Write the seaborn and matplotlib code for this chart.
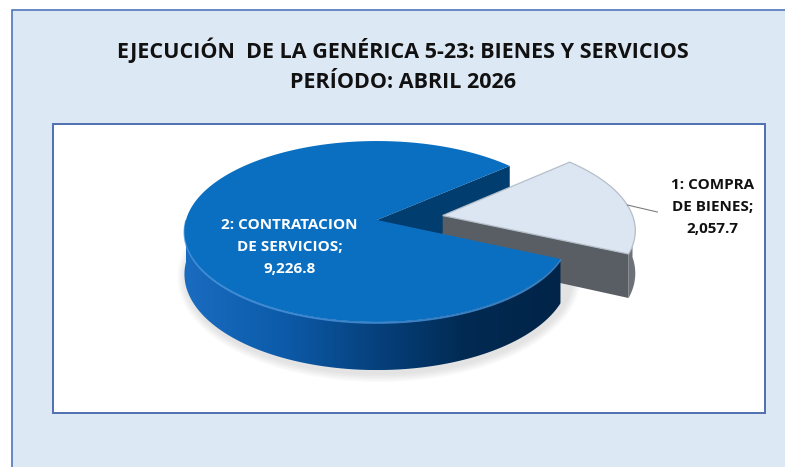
import numpy as np
import matplotlib
matplotlib.use("Agg")
import matplotlib.pyplot as plt
import seaborn as sns
from matplotlib import transforms as mtrans
from matplotlib import font_manager
from matplotlib.path import Path
from matplotlib.patches import Rectangle, Polygon, Ellipse
from matplotlib.colors import LinearSegmentedColormap

# ------------------------------
# Data
# ------------------------------
categorias = ["1: COMPRA\nDE BIENES", "2: CONTRATACION\nDE SERVICIOS"]
valores = [2057.7, 9226.8]
titulo = ["EJECUCIÓN  DE LA GENÉRICA 5-23: BIENES Y SERVICIOS",
          "PERÍODO: ABRIL 2026"]

sns.set_theme(style="white")

# pick a font close to Calibri
fam = "DejaVu Sans"
for f in ["Liberation Sans Narrow", "Open Sans", "Lato"]:
    try:
        font_manager.findfont(f, fallback_to_default=False)
        fam = f
        break
    except Exception:
        pass
plt.rcParams["font.family"] = [fam, "DejaVu Sans"]

# ------------------------------
# Canvas (pixel-like coordinates)
# ------------------------------
W, H = 785, 467
fig = plt.figure(figsize=(W / 100, H / 100), dpi=100)
fig.patch.set_facecolor("white")
ax = fig.add_axes([0, 0, 1, 1])

ax.add_patch(Rectangle((12, 10), 800, 480, facecolor="#dde8f5",
                       edgecolor="#4f76b9", lw=1.2, zorder=0))
ax.add_patch(Rectangle((53, 124), 712, 289, facecolor="white",
                       edgecolor="#4f6fb0", lw=1.4, zorder=0.5))

ax.text(403, 50, titulo[0], ha="center", va="center", fontsize=15.5,
        fontweight="bold", color="#111111")
ax.text(403, 83, titulo[1], ha="center", va="center", fontsize=15.5,
        fontweight="bold", color="#111111")

# ------------------------------
# 3D pie: flat pie seen in perspective + extruded walls
# ------------------------------
CX, CY, RX, RY, K, D = 377, 220, 191, 89, 0.127, 42


def proj(u, v, drop=0.0):
    s = 1.0 / (1.0 + K * np.asarray(v))
    return CX + RX * np.asarray(u) * s, CY - RY * np.asarray(v) * s + drop * s


class Persp(mtrans.Transform):
    input_dims = output_dims = 2
    is_separable = False
    has_inverse = False

    def transform_non_affine(self, xy):
        xy = np.asarray(xy, dtype=float)
        x, y = proj(xy[:, 0], xy[:, 1])
        return np.column_stack([x, y])

    def transform_path_non_affine(self, path):
        # flatten the bezier arcs before the projective mapping
        pts = []
        for seg, code in path.iter_bezier():
            if seg.degree == 0:
                pts.append(seg.control_points)
            else:
                pts.append(seg(np.linspace(0, 1, 24)[1:]))
        v = np.vstack(pts)
        return Path(self.transform_non_affine(v), closed=True)


wedges, _ = ax.pie(valores, startangle=-24.5, counterclock=True,
                   explode=[0.35, 0], colors=["#dce6f2", "#0b6fc1"],
                   wedgeprops=dict(linewidth=0))
ax.set_aspect("auto")
ax.axis("off")
top_tr = Persp() + ax.transData


def rim(w, ang, r=None, drop=0.0):
    cx, cy = w.center
    r = w.r if r is None else r
    a = np.radians(ang)
    return proj(cx + r * np.cos(a), cy + r * np.sin(a), drop)


def wall_poly(w, a0, a1):
    ang = np.linspace(a0, a1, 160)
    top = np.column_stack(rim(w, ang))
    bot = np.column_stack(rim(w, ang, drop=D))[::-1]
    return np.vstack([top, bot]), top


def radial_poly(w, ang):
    c0 = rim(w, ang, r=0)
    c1 = rim(w, ang, r=0, drop=D)
    r0 = rim(w, ang)
    r1 = rim(w, ang, drop=D)
    return np.array([c0, r0, r1, c1])


w_bien, w_serv = wedges

# soft shadow hugging the base of the pie
bx, by = rim(w_serv, np.linspace(0, 360, 200), drop=D)
bcx, bcy = (bx.max() + bx.min()) / 2, (by.max() + by.min()) / 2
for k in range(1, 7):
    ax.add_patch(Ellipse((bcx + 2, bcy + 3), np.ptp(bx) + 3 * k,
                         np.ptp(by) + 3 * k, facecolor="#7a7a7a",
                         alpha=0.035, lw=0, zorder=1))

# blue radial wall seen through the gap
ax.add_patch(Polygon(radial_poly(w_serv, w_serv.theta1), closed=True,
                     facecolor="#023d70", lw=0, zorder=2))

# light slice: radial wall, outer wall, top
ax.add_patch(Polygon(radial_poly(w_bien, w_bien.theta1), closed=True,
                     facecolor="#595e65", lw=0, zorder=3))
poly, _ = wall_poly(w_bien, w_bien.theta1, 0)
ax.add_patch(Polygon(poly, closed=True, facecolor="#6d727a", lw=0, zorder=3))
w_bien.set_transform(top_tr)
w_bien.set_zorder(4)
w_bien.set_edgecolor("#b5bfca")
w_bien.set_linewidth(0.9)

# blue outer wall with horizontal gradient
poly, top_arc = wall_poly(w_serv, 180, w_serv.theta2)
wall = Polygon(poly, closed=True, facecolor="none", lw=0, zorder=5)
ax.add_patch(wall)
grad_cmap = LinearSegmentedColormap.from_list(
    "wall", ["#1a6cc0", "#0d5cab", "#06427f", "#012a52", "#012448"])
x0, x1 = poly[:, 0].min(), poly[:, 0].max()
y0, y1 = poly[:, 1].min(), poly[:, 1].max()
img = ax.imshow(np.linspace(0, 1, 256)[None, :], cmap=grad_cmap,
                extent=[x0, x1, y1, y0], aspect="auto", zorder=5)
img.set_clip_path(wall)
ax.plot(top_arc[:, 0], top_arc[:, 1] + 1, color="#4a96e0", lw=1.3,
        alpha=0.8, zorder=6)

w_serv.set_transform(top_tr)
w_serv.set_zorder(7)

ax.set_xlim(0, W)
ax.set_ylim(H, 0)

# ------------------------------
# Data labels (anchor given in pie coordinates)
# ------------------------------
etiquetas = [(categorias[1], valores[1], (-0.44, -0.29), "white"),
             (categorias[0], valores[0], (1.79, 0.15), "#111111")]
for cat, val, (u, v), col in etiquetas:
    x, y = proj(u, v)
    ax.text(x, y, f"{cat};\n{val:,.1f}", ha="center", va="center",
            fontsize=11, fontweight="bold", color=col, linespacing=1.72,
            zorder=9)

# leader line for the outside label
lx, ly = zip(rim(w_bien, 7), rim(w_bien, 2, r=1.14))
ax.plot(lx, ly, color="#7f7f7f", lw=0.8, zorder=8)

fig.savefig("out.png", dpi=100, facecolor=fig.get_facecolor())
